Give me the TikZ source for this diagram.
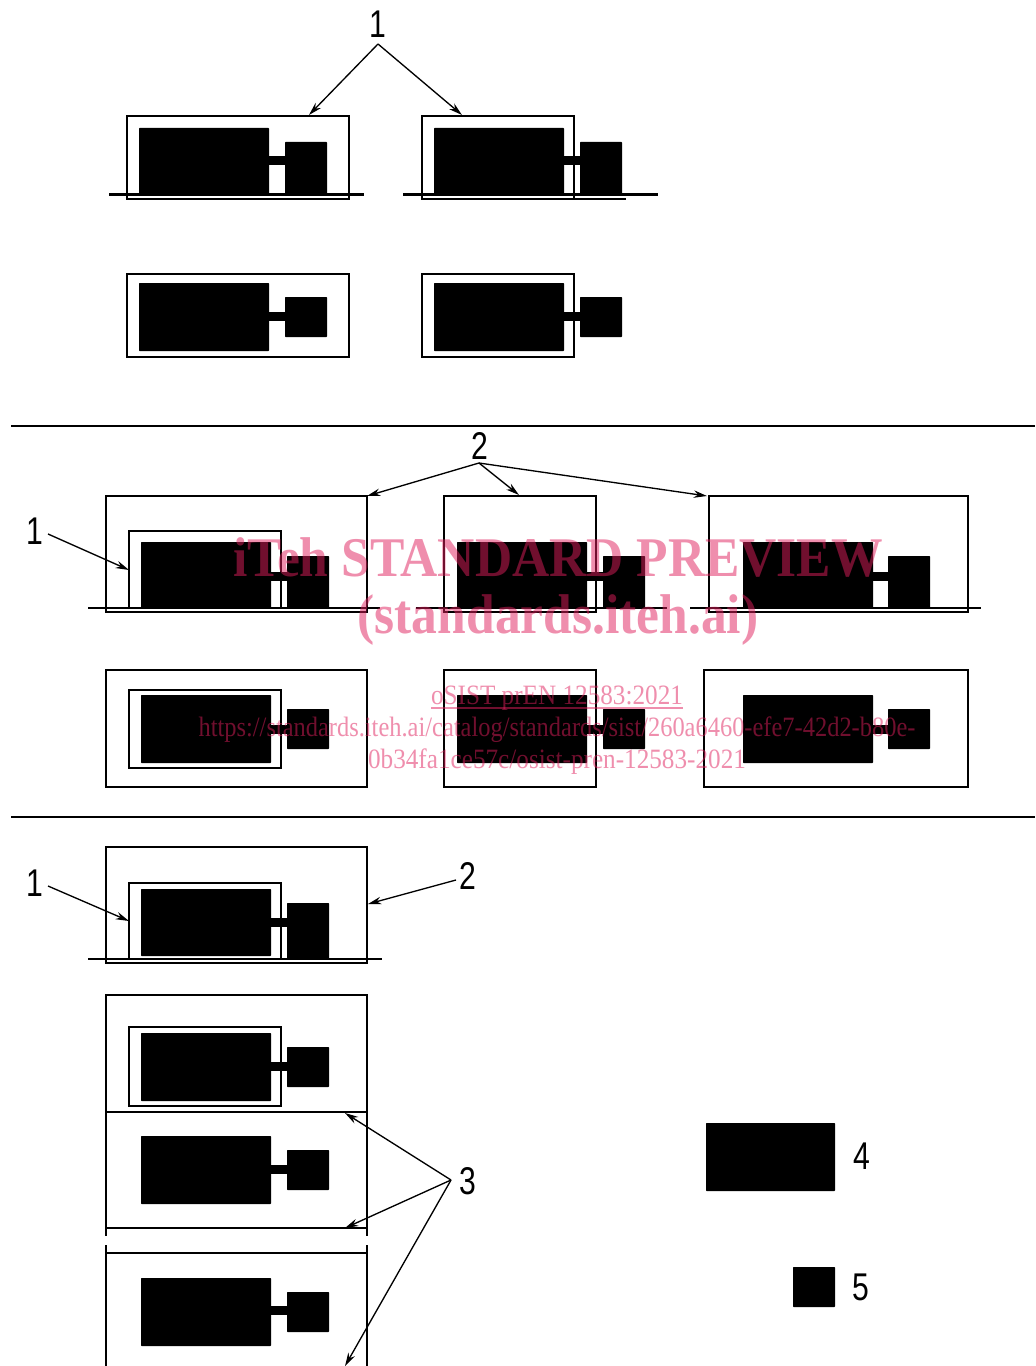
\documentclass[tikz,border=0pt]{standalone}
\usepackage{fontspec}
\setmainfont{Liberation Serif}
\newfontfamily\partfont[FakeStretch=0.78]{Liberation Sans}
\newfontfamily\stampbig[FakeStretch=0.92]{Liberation Serif}
\newfontfamily\stampsmall[FakeStretch=0.9]{Liberation Serif}
\newfontfamily\stampurl[FakeStretch=0.873]{Liberation Serif}
\usetikzlibrary{arrows.meta}
\definecolor{markpink}{RGB}{224,30,92}
\tikzset{
	frame/.style={draw, line width=2.15pt},
	casing/.style={draw, line width=2pt},
	block/.style={fill=black, rounded corners=0.4pt},
	floorline/.style={draw, line width=2.15pt},
	sepline/.style={draw, line width=2.15pt},
	leader/.style={draw, line width=1pt, -{Stealth[length=10pt,width=5.6pt]}},
	partno/.style={font=\partfont\fontsize{29}{29}\selectfont, inner sep=0pt},
	stamp/.style={text=markpink, text opacity=0.5, inner sep=0pt, align=center},
}
\begin{document}
\begin{tikzpicture}[x=0.75pt, y=-0.75pt]
	\useasboundingbox (0,0) rectangle (1035,1366);
	\fill[white] (0,0) rectangle (1035,1366);
	% top group
	\foreach \xa/\xb/\ya/\yb in {127/349/116/199, 422/574/116/199, 127/349/274/357, 422/574/274/357}
		\draw[frame] (\xa,\ya) rectangle (\xb,\yb);
	\draw[floorline] (109,194.5) -- (364,194.5);
	\draw[floorline] (403,194.5) -- (658,194.5);
	\draw[frame] (574,199) -- (626,199);
	\foreach \xa/\ya/\yb/\yc/\yd/\ye/\yf in {139/128/195/142/195/156/165, 434/128/195/142/195/156/165, 139/283/351/297/337/312/321, 434/283/351/297/337/312/321}{
		\fill[block] (\xa,\ya) rectangle +(130,\yb-\ya);
		\fill[block] (\xa+146,\yc) rectangle +(42,\yd-\yc);
		\fill (\xa+129,\ye) rectangle +(18,\yf-\ye);
	}
	\node[partno] (one) at (378,24) {1};
	\coordinate (oneapex) at (378,44);
	\coordinate (ta) at (309,115);
	\coordinate (tb) at (462,115);
	\draw[leader] (oneapex) -- (ta);
	\draw[leader] (oneapex) -- (tb);
	\draw[sepline] (11,426) -- (1035,426);
	% middle group
	\foreach \xa/\xb/\ya/\yb in {106/367/496/612, 444/596/496/612, 709/968/496/612, 106/367/670/787, 444/596/670/787, 704/968/670/787}
		\draw[frame] (\xa,\ya) rectangle (\xb,\yb);
	\draw[casing] (129,609) -- (129,531) -- (281,531) -- (281,609);
	\draw[casing] (129,690) rectangle (281,768);
	\foreach \x/\y/\l in {88/608/292, 416/608/251, 690/608/291}
		\draw[floorline] (\x,\y) -- +(\l,0);
	\foreach \xa/\xs in {141/287, 457/603, 743/888}{
		\fill[block] (\xa,542) rectangle +(130,66);
		\fill[block] (\xs,556) rectangle +(42,52);
		\fill (\xa+129,572) rectangle (\xs+1,581);
		\fill[block] (\xa,695) rectangle +(130,68);
		\fill[block] (\xs,709) rectangle +(42,40);
		\fill (\xa+129,725) rectangle (\xs+1,734);
	}
	\node[partno] (two) at (480,446) {2};
	\coordinate (twoapex) at (479,463);
	\coordinate (ma) at (367,496);
	\coordinate (mb) at (519,495);
	\coordinate (mc) at (707,496);
	\draw[leader] (twoapex) -- (ma);
	\draw[leader] (twoapex) -- (mb);
	\draw[leader] (twoapex) -- (mc);
	\node[partno] (onemid) at (35,531) {1};
	\coordinate (onemidstart) at (48,534);
	\coordinate (mi) at (129,570);
	\draw[leader] (onemidstart) -- (mi);
	\draw[sepline] (11,817) -- (1035,817);
	% bottom group
	\draw[frame] (106,847) rectangle (367,963);
	\draw[casing] (129,959) -- (129,883) -- (281,883) -- (281,959);
	\draw[floorline] (88,959) -- (382,959);
	\draw[frame] (106,1112) -- (106,995) -- (367,995) -- (367,1112);
	\draw[casing] (129,1027) rectangle (281,1106);
	\draw[frame] (106,1112) -- (367,1112);
	\draw[frame] (106,1112) -- (106,1236);
	\draw[frame] (367,1112) -- (367,1236);
	\draw[frame] (106,1228) -- (367,1228);
	\draw[frame] (106,1245) -- (106,1366);
	\draw[frame] (367,1245) -- (367,1366);
	\draw[frame] (106,1253) -- (367,1253);
	\foreach \ya/\yb/\yc/\yd/\ye in {889/956/903/959/918, 1033/1101/1047/1087/1062, 1136/1204/1150/1190/1165, 1278/1346/1292/1332/1306}{
		\fill[block] (141,\ya) rectangle (271,\yb);
		\fill[block] (287,\yc) rectangle (329,\yd);
		\fill (270,\ye) rectangle (288,\ye+9);
	}
	\node[partno] (onelow) at (35,883) {1};
	\coordinate (onelowstart) at (48,886);
	\coordinate (li) at (129,921);
	\draw[leader] (onelowstart) -- (li);
	\node[partno] (twolow) at (468,876) {2};
	\coordinate (twolowstart) at (456,880);
	\coordinate (lo) at (368,904);
	\draw[leader] (twolowstart) -- (lo);
	\node[partno] (three) at (468,1181) {3};
	\coordinate (threeapex) at (451,1180);
	\coordinate (da) at (345,1113);
	\coordinate (db) at (345,1228);
	\coordinate (dc) at (345,1366);
	\draw[leader] (threeapex) -- (da);
	\draw[leader] (threeapex) -- (db);
	\draw[leader] (threeapex) -- (dc);
	% key
	\fill[block] (706,1123) rectangle (835,1191);
	\fill[block] (793,1267) rectangle (835,1307);
	\node[partno] (four) at (862,1156) {4};
	\node[partno] (five) at (861,1287) {5};
	% stamp
	\node[stamp, font=\stampbig\bfseries\fontsize{42}{42}\selectfont] (stampa) at (558,557) {iTeh STANDARD PREVIEW};
	\node[stamp, font=\stampbig\bfseries\fontsize{42}{42}\selectfont] (stampb) at (558,620) {(standards.iteh.ai)};
	\node[stamp, font=\stampsmall\fontsize{21}{21}\selectfont] (stampc) at (557,698) {oSIST prEN 12583:2021};
	\draw[markpink, opacity=0.5, line width=0.8pt] (431,708) -- (683,708);
	\node[stamp, font=\stampurl\fontsize{21}{21}\selectfont] (stampd) at (557,730) {https://standards.iteh.ai/catalog/standards/sist/260a6460-efe7-42d2-b80e-};
	\node[stamp, font=\stampsmall\fontsize{21}{21}\selectfont] (stampe) at (557,762) {0b34fa1ce57c/osist-pren-12583-2021};
\end{tikzpicture}
\end{document}
